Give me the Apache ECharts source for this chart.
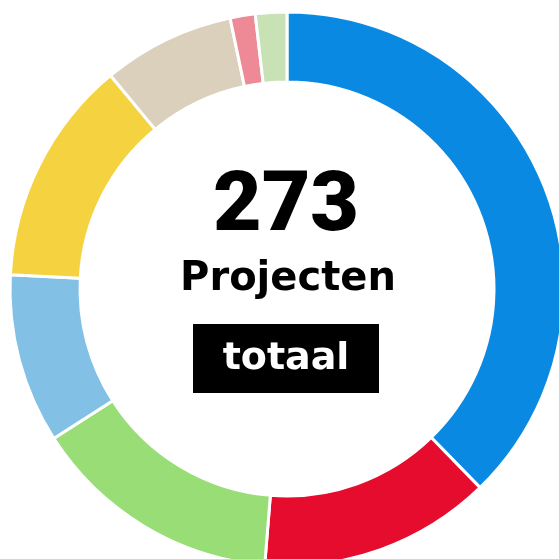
<!DOCTYPE html>
<html>
<head>
<meta charset="utf-8">
<script src="https://cdn.jsdelivr.net/npm/echarts@6/dist/echarts.min.js"></script>
<style>
  html, body { margin: 0; padding: 0; background: #fff; }
  #chart { width: 559px; height: 559px; }
</style>
</head>
<body>
<div id="chart"></div>
<script>
'use strict';

// projecten per categorie (klokwijs vanaf boven)
var categories = ['A', 'B', 'C', 'D', 'E', 'F', 'G', 'H'];
var values = [103, 37, 40, 27, 36, 21, 4, 5];
var colors = ['#0a89e2', '#e60c2e', '#98dd76', '#82c0e6', '#f5d340', '#dad0bc', '#ee8a95', '#c8e2b6'];

var totalLabel = '273';
var unitLabel = 'Projecten';
var tagLabel = 'totaal';

var chart = echarts.init(document.getElementById('chart'));

var pieData = [];
for (var i = 0; i < values.length; i++) {
    pieData.push({ name: categories[i], value: values[i], itemStyle: { color: colors[i] } });
}

var option = {
    animation: false,
    series: [{
        type: 'pie',
        silent: true,
        center: [287, 289],
        radius: [207, 277],
        startAngle: 90,
        clockwise: true,
        label: { show: false },
        labelLine: { show: false },
        itemStyle: { borderColor: '#fff', borderWidth: 3 },
        data: pieData
    }],
    graphic: [
        {
            type: 'text', x: 286, y: 209,
            style: { text: totalLabel, fill: '#000', font: '900 84px Roboto', textAlign: 'center', textVerticalAlign: 'middle' }
        },
        {
            type: 'text', x: 288, y: 280,
            style: { text: unitLabel, fill: '#000', font: 'bold 40px "DejaVu Sans"', textAlign: 'center', textVerticalAlign: 'middle' }
        },
        {
            type: 'rect', shape: { x: 193, y: 324, width: 186, height: 69 },
            style: { fill: '#000' }
        },
        {
            type: 'text', x: 286, y: 359,
            style: { text: tagLabel, fill: '#fff', font: 'bold 38px "DejaVu Sans"', textAlign: 'center', textVerticalAlign: 'middle' }
        }
    ]
};

chart.setOption(option);
</script>
</body>
</html>
